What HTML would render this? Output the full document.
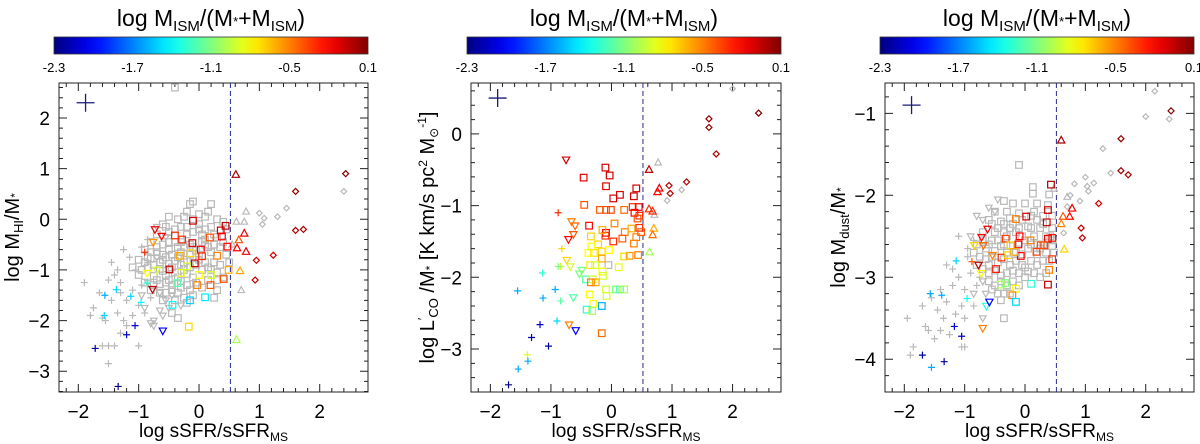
<!DOCTYPE html>
<html><head><meta charset="utf-8"><style>
html,body{margin:0;padding:0;background:#fff}
svg{display:block;font-family:"Liberation Sans",sans-serif}
</style></head><body>
<svg id="chart" width="1200" height="444" viewBox="0 0 1200 444"></svg>
<script>
// ---------- data ----------
const cbTicks = ["-2.3","-1.7","-1.1","-0.5","0.1"];
const xTicks = [-2,-1,0,1,2];
const yTicks1 = [2,1,0,-1,-2,-3];
const yTicks2 = [0,-1,-2,-3];
const yTicks3 = [-1,-2,-3,-4];
// colored points: [x, y, colorValue, shape]
const col1 = [
[0.61,0.88,0.0,'t'],[2.43,0.9,0.1,'d'],[1.6,0.55,0.05,'d'],[1.6,-0.22,0.0,'d'],[1.73,-0.2,0.0,'d'],[1.23,-0.71,-0.1,'d'],[0.95,-0.81,-0.1,'d'],[0.93,-1.2,-0.05,'d'],
[0.75,-0.28,-0.15,'t'],[0.66,-0.41,-0.4,'t'],[0.63,-0.57,-0.2,'t'],[0.78,-0.64,-0.15,'t'],[0.68,-1.02,-0.6,'t'],[0.62,-2.38,-1.0,'t'],
[-0.1,-0.03,-0.1,'s'],[-0.4,-0.32,-0.3,'s'],[0.36,-0.22,-0.1,'s'],[0.44,-0.13,-0.05,'s'],[-0.11,-0.47,-0.1,'s'],[-0.28,-0.4,-0.3,'s'],[0.18,-0.36,-0.4,'s'],[0.03,-0.6,-0.2,'s'],[-0.07,-0.87,-0.05,'s'],[-0.49,-0.99,-0.05,'s'],[-0.32,-0.72,-0.6,'s'],[-0.14,-0.67,-0.7,'s'],[0.05,-0.73,-0.3,'s'],[0.3,-0.72,-0.5,'s'],[0.38,-0.34,-0.2,'s'],[0.47,-0.54,-0.2,'s'],[0.49,-1.0,-0.6,'s'],[0.41,-1.18,-0.4,'s'],[0.19,-1.3,-0.4,'s'],[-0.03,-1.3,-0.5,'s'],[-0.17,-2.12,-0.7,'s'],[-0.15,-1.6,-1.5,'s'],[0.1,-1.54,-1.45,'s'],[-0.44,-1.69,-1.4,'s'],[0.2,-1.1,-0.9,'s'],[-0.3,-1.06,-0.85,'s'],[-0.2,-0.93,-0.9,'s'],[0,-1.1,-0.8,'s'],[-0.36,-1.26,-1.2,'s'],
[-0.73,-0.2,-0.15,'v'],[-0.62,-0.33,-0.2,'v'],[-0.76,-0.45,-0.55,'v'],[-0.77,-1.38,-0.05,'v'],[-0.6,-2.2,-2.0,'v'],[-0.86,-1.06,-0.8,'v'],[-0.7,-1.0,-0.9,'v'],
[-0.9,-0.65,-0.3,'p'],[-1.56,-1.5,-1.6,'p'],[-1.57,-1.9,-1.5,'p'],[-1.37,-1.39,-1.5,'p'],[-0.96,-1.64,-1.4,'p'],[-1.06,-2.1,-2.1,'p'],[-1.2,-2.28,-2.1,'p'],[-1.72,-2.55,-2.2,'p'],[-1.34,-3.3,-2.3,'p'],[-1.13,-1.52,-1.5,'p'],[-0.86,-1.26,-1.3,'p']
];
const graySq1 = [-0.4,2.6,-0.15,0.3,-0.1,0.35,0.2,0.3,-0.2,0.15,0,0.1,-0.5,0.05,-0.35,0,-0.1,0,0.1,0.05,0.3,0,0.4,-0.05,-0.6,-0.1,-0.3,-0.15,0,-0.1,0.2,-0.15,0.45,-0.2,-0.7,-0.3,-0.5,-0.25,-0.2,-0.3,0.05,-0.3,0.3,-0.35,-0.8,-0.45,-0.6,-0.5,-0.4,-0.45,-0.15,-0.5,0.1,-0.5,0.35,-0.55,-0.9,-0.6,-0.7,-0.65,-0.5,-0.6,-0.3,-0.65,-0.05,-0.62,0.2,-0.65,0.45,-0.7,-1.0,-0.8,-0.8,-0.78,-0.6,-0.8,-0.4,-0.82,-0.2,-0.8,0,-0.8,0.25,-0.85,0.5,-0.85,-1.1,-0.95,-0.85,-0.95,-0.65,-0.98,-0.45,-0.95,-0.25,-1.0,0.05,-1.0,0.3,-1.05,-1.0,-1.1,-0.75,-1.12,-0.55,-1.1,-0.35,-1.15,-0.1,-1.15,0.15,-1.2,0.4,-1.15,-0.9,-1.25,-0.65,-1.28,-0.45,-1.3,-0.2,-1.3,0.05,-1.35,0.3,-1.4,-0.8,-1.4,-0.55,-1.45,-0.35,-1.45,-0.1,-1.5,0.25,-1.55,-0.6,-1.6,-0.4,-1.6,-0.2,-1.65,-0.45,-1.85,-0.35,-1.95,-0.25,-1.55,-0.75,-0.9,-0.3,-0.9,-0.15,-0.7,0.35,-0.9,-0.5,-1.2,0.1,-0.4,-0.6,-0.7,-0.05,-1.25,0.2,-1.0,-0.3,-0.45,-0.7,-1.2,0.0,-0.2,-0.4,-0.2,0.15,0.15,-0.25,0.05,
-0.55,-0.75,-0.45,-0.7,-0.35,-0.75,-0.25,-0.85,-0.5,-0.88,-0.4,-1.05,-0.6,-1.02,-0.2,-1.08,-0.15,-0.95,-0.3,-1.22,-0.55,-1.25,-0.15,-1.4,-0.3,-1.35,-0.45,-1.4,-0.1,-0.55,-0.25,-0.55,-0.35,-0.55,-0.5,-0.45,0.05,-0.45,0.15,-0.55,0.25,-0.5,0.0,-0.7,0.1,-0.85,0.15,-0.95,-0.05,-0.9,-0.65,-0.85,-0.7,-0.55,-0.8,-0.65,-0.85,-0.75,-0.9,-0.85,-0.95,-1.0,-0.75,-1.3,-0.65,-1.45,-0.2,-0.15,-0.55,-0.15,0.1,-0.2,0.25,-0.3,-0.1,-0.25,0.3,-1.2,0.4,-0.45];
const grayPl1 = [-1.9,-1.25,-1.75,-1.75,-1.8,-1.9,-1.65,-1.45,-1.5,-1.2,-1.4,-1.1,-1.3,-1.25,-1.45,-1.6,-1.35,-1.85,-1.25,-2.0,-1.3,-2.25,-1.2,-1.6,-1.1,-1.4,-1.15,-0.75,-1.25,-0.6,-1.05,-1.0,-0.95,-1.3,-1.0,-1.7,-0.9,-1.85,-0.85,-0.4,-0.95,-0.55,-0.85,-0.85,-1.4,-2.5,-1.5,-2.5,-1.6,-2.5,-1.0,-2.5,-1.5,-2.85,-1.55,-2.0,-1.3,-1.45,-1.2,-2.1,-1.1,-1.9,-0.8,-1.55,-1.35,-1.0,-1.45,-0.85,-1.6,-1.95];
const grayDt1 = [-0.55,-1.6,-0.65,-1.8,-0.75,-2.0,-0.75,-2.1,-0.6,-1.9,-0.8,-2.05,-0.9,-1.75,-0.65,-1.45,-0.5,-1.75,-0.95,-1.5,-0.85,-1.25,-0.7,-0.75,-0.55,-0.35,-0.7,-0.15,-0.45,-1.5,-0.3,-1.7];
const grayDi1 = [1.0,0.12,1.05,-0.1,1.08,0.02,1.3,0.05,1.45,0.22,2.4,0.55];
const grayTr1 = [0.78,0.15,0.62,-0.05,0.75,-0.05,0.7,-1.4,0.55,-0.5];

const col2 = [
[2.43,0.29,0.1,'d'],[1.61,0.21,0.05,'d'],[1.61,0.09,0.05,'d'],[1.73,-0.28,0.0,'d'],[1.24,-0.67,-0.05,'d'],[0.95,-0.72,-0.05,'d'],[0.97,-0.83,-0.05,'d'],
[0.62,-0.5,-0.05,'t'],[0.79,-0.76,-0.15,'t'],[0.76,-0.81,-0.2,'t'],[0.62,-1.05,-0.3,'t'],[0.68,-1.08,-0.3,'t'],[0.7,-1.32,-0.6,'t'],[0.68,-1.41,-0.45,'t'],[0.63,-1.65,-1.0,'t'],
[-0.75,-0.36,-0.1,'v'],[-0.66,-1.22,-0.5,'v'],[-0.6,-1.28,-0.45,'v'],[-0.71,-1.47,-0.2,'v'],[-0.63,-1.4,-0.4,'v'],[-0.74,-1.76,-0.7,'v'],[-0.68,-1.85,-0.9,'v'],[-0.53,-1.95,-1.1,'v'],[-0.49,-1.9,-1.1,'v'],[-0.63,-2.28,-1.2,'v'],[-0.7,-2.66,-0.5,'v'],[-0.59,-2.74,-2.0,'v'],
[-0.88,-1.1,-0.3,'p'],[-0.82,-1.6,-0.7,'p'],[-0.84,-1.85,-0.9,'p'],[-0.88,-1.85,-1.1,'p'],[-1.14,-1.94,-1.3,'p'],[-1.55,-2.19,-1.6,'p'],[-1.13,-2.29,-1.6,'p'],[-0.93,-2.17,-1.6,'p'],[-0.84,-2.33,-1.2,'p'],[-0.9,-2.61,-1.5,'p'],[-1.18,-2.66,-2.1,'p'],[-1.32,-2.84,-2.2,'p'],[-1.04,-2.96,-2.2,'p'],[-1.39,-3.08,-0.9,'p'],[-1.38,-3.17,-1.6,'p'],[-1.54,-3.28,-1.6,'p'],[-1.7,-3.5,-2.3,'p'],
[-0.1,-0.47,-0.1,'s'],[-0.03,-0.58,-0.1,'s'],[-0.46,-0.61,-0.15,'s'],[-0.09,-0.73,-0.15,'s'],[0.14,-0.85,-0.1,'s'],[0.03,-0.9,-0.1,'s'],[0.37,-0.87,-0.1,'s'],[0.41,-0.76,-0.1,'s'],[-0.45,-0.99,-0.4,'s'],[-0.19,-1.06,-0.4,'s'],[-0.09,-1.06,-0.4,'s'],[-0.01,-1.06,-0.35,'s'],[0.21,-1.06,-0.45,'s'],[0.35,-1.02,-0.3,'s'],[0.45,-1.02,-0.2,'s'],[0.38,-1.1,-0.2,'s'],[0.46,-1.14,-0.3,'s'],[0.43,-1.18,-0.4,'s'],[-0.37,-1.28,-0.2,'s'],[0.05,-1.25,-0.5,'s'],[-0.09,-1.38,-0.2,'s'],[-0.1,-1.42,-0.3,'s'],[-0.15,-1.34,-0.6,'s'],[0.22,-1.37,-0.5,'s'],[0.33,-1.32,-0.6,'s'],[0.46,-1.31,-0.3,'s'],[0.49,-1.37,-0.4,'s'],[0.03,-1.5,-0.3,'s'],[0.18,-1.46,-0.4,'s'],[0.41,-1.44,-0.5,'s'],[0.37,-1.53,-0.5,'s'],[-0.34,-1.43,-0.7,'s'],[-0.22,-1.54,-0.7,'s'],[-0.33,-1.57,-0.8,'s'],[-0.38,-1.66,-0.8,'s'],[-0.29,-1.66,-0.75,'s'],[-0.16,-1.64,-0.7,'s'],[-0.04,-1.62,-0.8,'s'],[0.3,-1.7,-0.55,'s'],[0.21,-1.71,-0.7,'s'],[0.44,-1.69,-0.5,'s'],[-0.16,-1.74,-0.6,'s'],[0.12,-1.86,-0.85,'s'],[-0.35,-1.83,-0.75,'s'],[-0.27,-1.83,-0.9,'s'],[-0.15,-1.92,-0.8,'s'],[-0.14,-1.98,-0.9,'s'],[-0.42,-2.03,-1.2,'s'],[-0.31,-2.03,-0.9,'s'],[-0.26,-2.07,-0.6,'s'],[-0.34,-2.07,-0.5,'s'],[-0.09,-2.17,-0.9,'s'],[0.07,-2.17,-1.1,'s'],[0.14,-2.17,-1.2,'s'],[0.21,-2.17,-1.0,'s'],[-0.08,-2.26,-0.9,'s'],[-0.36,-2.24,-0.8,'s'],[-0.3,-2.37,-0.8,'s'],[-0.41,-2.45,-1.3,'s'],[-0.32,-2.47,-1.0,'s'],[-0.16,-2.4,-1.6,'s'],[-0.16,-2.78,-0.45,'s']
];
const graySq2 = [-0.05,-1.83];
const grayPl2 = [];
const grayDt2 = [];
const grayDi2 = [2.0,0.63,1.16,-0.78,0.92,-0.93];
const grayTr2 = [0.77,-0.4,0.71,-1.13];

const col3 = [
[2.42,-0.97,0.1,'d'],[1.59,-1.31,0.05,'d'],[1.59,-1.7,0.05,'d'],[1.71,-1.75,0.0,'d'],[1.22,-2.1,-0.1,'d'],[0.93,-2.4,-0.05,'d'],[0.95,-2.52,-0.05,'d'],
[0.6,-1.33,0.0,'t'],[0.78,-2.16,-0.15,'t'],[0.74,-2.26,-0.2,'t'],[0.63,-2.26,-0.4,'t'],[0.6,-2.35,-0.5,'t'],[0.65,-2.66,-0.7,'t'],
[0.43,-1.87,0.0,'s'],[0.38,-2.18,-0.1,'s'],[0.02,-2.26,-0.1,'s'],[0.36,-2.33,-0.1,'s'],[-0.15,-2.29,-0.5,'s'],[0.38,-2.53,-0.1,'s'],[0.45,-2.52,-0.25,'s'],[0.32,-2.61,-0.35,'s'],[0.26,-2.61,-0.4,'s'],[0.19,-2.69,-0.35,'s'],[0.09,-2.55,-0.5,'s'],[-0.09,-2.5,-0.2,'s'],[-0.11,-2.6,-0.2,'s'],[-0.07,-2.74,-0.2,'s'],[-0.32,-2.53,-0.35,'s'],[-0.39,-2.76,-0.3,'s'],[-0.48,-2.9,-0.25,'s'],[-0.24,-2.61,-0.7,'s'],[-0.18,-2.69,-0.6,'s'],[-0.28,-2.73,-0.7,'s'],[0.4,-2.91,-0.5,'s'],[0.45,-2.78,-0.3,'s'],[0.38,-3.09,-0.05,'s'],[0.1,-3.08,-1.3,'s'],[-0.15,-3.14,-0.8,'s'],[-0.21,-3.22,-0.5,'s'],[-0.15,-3.3,-1.5,'s'],[-0.4,-3.09,-1.0,'s'],[-0.33,-3.07,-1.1,'s'],
[-0.62,-2.41,-0.15,'v'],[-0.72,-2.51,-0.2,'v'],[-0.69,-2.61,-0.45,'v'],[-0.54,-2.73,-0.5,'v'],[-0.77,-2.85,-0.05,'v'],[-0.73,-2.95,-0.8,'v'],[-0.64,-3.35,-1.3,'v'],[-0.59,-3.3,-2.0,'v'],[-0.7,-3.62,-0.5,'v'],[-0.84,-2.61,-0.7,'v'],
[-0.88,-2.81,-0.4,'p'],[-1.14,-2.8,-1.5,'p'],[-1.38,-3.22,-1.6,'p'],[-1.57,-3.2,-1.6,'p'],[-0.96,-3.26,-1.4,'p'],[-1.17,-3.6,-2.1,'p'],[-1.05,-3.72,-2.1,'p'],[-1.7,-3.95,-2.2,'p'],[-1.34,-4.03,-2.2,'p'],[-1.55,-4.1,-1.6,'p']
];
const graySq3 = [-0.1,-1.63,0.13,-1.9,0.13,-1.98,0.4,-1.99,-0.35,-2.07,-0.2,-2.1,0,-2.1,0.2,-2.1,0.38,-2.12,-0.5,-2.2,-0.3,-2.2,-0.1,-2.22,0.1,-2.25,0.3,-2.25,-0.6,-2.3,-0.4,-2.32,-0.2,-2.35,0.05,-2.38,0.25,-2.4,0.45,-2.4,-0.7,-2.45,-0.5,-2.45,-0.3,-2.5,-0.05,-2.5,0.15,-2.5,0.35,-2.5,-0.8,-2.6,-0.6,-2.6,-0.4,-2.62,-0.2,-2.62,0.05,-2.65,0.25,-2.65,0.45,-2.62,-0.75,-2.75,-0.55,-2.75,-0.35,-2.78,-0.15,-2.8,0.1,-2.8,0.3,-2.8,-0.7,-2.9,-0.5,-2.92,-0.3,-2.95,-0.1,-2.95,0.15,-2.95,0.4,-2.8,-0.6,-3.05,-0.4,-3.05,-0.2,-3.05,0.0,-3.0,-0.45,-3.2,-0.25,-3.2,-0.4,-3.28,-0.55,-3.15,-0.35,-3.5,0.0,-2.55,-0.25,-2.4,0.2,-2.6,-0.45,-2.55,-0.15,-2.7,0.3,-2.35,-0.65,-2.65,-0.05,-2.85,0.35,-2.95,0.45,-2.25,0.42,-2.5,0.48,-2.7,0.46,-2.55,-0.1,-2.4,-0.6,-2.85,0.25,-3.0,
-0.55,-2.35,-0.45,-2.4,-0.35,-2.35,-0.15,-2.45,0.1,-2.4,0.2,-2.3,-0.05,-2.3,-0.25,-2.28,-0.7,-2.55,-0.55,-2.55,-0.35,-2.6,-0.1,-2.58,0.1,-2.6,0.3,-2.6,-0.5,-2.68,-0.3,-2.7,-0.05,-2.72,0.2,-2.72,-0.65,-2.78,-0.45,-2.82,-0.25,-2.85,0.0,-2.88,0.2,-2.85,-0.6,-2.95,-0.4,-2.98,-0.2,-2.92,0.05,-2.93,-0.5,-3.1,-0.3,-3.1,-0.1,-3.1,-0.35,-3.2,-0.85,-2.7,-0.8,-2.85,0.35,-2.7,0.15,-2.2,-0.35,-2.45];
const grayPl3 = [-1.95,-3.5,-1.85,-3.85,-1.9,-3.95,-1.65,-3.6,-1.55,-3.25,-1.7,-3.35,-1.45,-3.4,-1.35,-3.5,-1.3,-3.3,-1.2,-3.1,-1.25,-3.7,-1.4,-3.65,-1.15,-3.45,-1.05,-3.35,-1.0,-3.15,-1.1,-3.0,-1.2,-2.9,-1.3,-2.85,-0.95,-2.75,-0.9,-2.95,-1.05,-3.85,-1.0,-3.85,-0.85,-3.35,-0.8,-3.1,-0.85,-2.55,-1.1,-2.5,-0.95,-2.65,-1.5,-3.75,-1.6,-3.65,-1.4,-3.15,-1.0,-3.5,-0.75,-3.0];
const grayDt3 = [-0.6,-2.15,-0.5,-2.2,-0.7,-2.3,-0.8,-2.25,-0.7,-3.05,-0.65,-3.2,-0.7,-3.5,-0.85,-3.2,-0.45,-2.05,-0.9,-2.5];
const grayDi3 = [2.15,-0.73,2.0,-1.04,2.39,-1.07,1.29,-1.43,1.42,-1.73,1.0,-1.78,1.14,-1.85,1.03,-1.89,1.05,-1.95,0.82,-1.86,0.91,-2.07,0.75,-2.0,0.7,-2.14,0.64,-2.46];
const grayTr3 = [0.48,-1.92,0.7,-2.02];
const errPts = [[-1.88,2.3],[-1.88,0.5],[-1.88,-0.9]];
const msLine = 0.52;

// ---------- drawing ----------
const NS="http://www.w3.org/2000/svg";
const svg=document.getElementById('chart');
function mk(tag,attrs,parent){const e=document.createElementNS(NS,tag);for(const k in attrs)e.setAttribute(k,attrs[k]);(parent||svg).appendChild(e);return e;}
function jet(v){let t=(v+2.3)/2.4;t=Math.max(0,Math.min(1,t));
 const r=Math.max(0,Math.min(1,1.5-Math.abs(4*t-3))),g=Math.max(0,Math.min(1,1.5-Math.abs(4*t-2))),b=Math.max(0,Math.min(1,1.5-Math.abs(4*t-1)));
 return `rgb(${Math.round(r*255)},${Math.round(g*255)},${Math.round(b*255)})`;}
function marker(g,shape,px,py,color,s,sw){
 let e;
 if(shape==='s')e=mk('rect',{x:px-s,y:py-s,width:2*s,height:2*s,fill:'none',stroke:color,'stroke-width':sw},g);
 else if(shape==='t')e=mk('polygon',{points:`${px},${py-s*1.2} ${px-s*1.1},${py+s*0.8} ${px+s*1.1},${py+s*0.8}`,fill:'none',stroke:color,'stroke-width':sw},g);
 else if(shape==='v')e=mk('polygon',{points:`${px},${py+s*1.2} ${px-s*1.1},${py-s*0.8} ${px+s*1.1},${py-s*0.8}`,fill:'none',stroke:color,'stroke-width':sw},g);
 else if(shape==='d')e=mk('polygon',{points:`${px},${py-s} ${px+s},${py} ${px},${py+s} ${px-s},${py}`,fill:'none',stroke:color,'stroke-width':sw},g);
 else e=mk('path',{d:`M${px-s} ${py}H${px+s}M${px} ${py-s}V${py+s}`,stroke:color,'stroke-width':sw,fill:'none'},g);
 return e;}

const panels=[
 {x0:59,x1:368,cb0:54,cb1:368,ymin:-3.41,ymax:2.69,yt:yTicks1,col:col1,gs:graySq1,gp:grayPl1,gd:grayDt1,gdi:grayDi1,gt:grayTr1,err:errPts[0],title:'hi'},
 {x0:471,x1:781,cb0:467,cb1:781,ymin:-3.6,ymax:0.71,yt:yTicks2,col:col2,gs:graySq2,gp:grayPl2,gd:grayDt2,gdi:grayDi2,gt:grayTr2,err:errPts[1],title:'co'},
 {x0:885,x1:1194,cb0:880,cb1:1194,ymin:-4.4,ymax:-0.63,yt:yTicks3,col:col3,gs:graySq3,gp:grayPl3,gd:grayDt3,gdi:grayDi3,gt:grayTr3,err:errPts[2],title:'dust'}
];
const Y0=83,Y1=392,XMIN=-2.32,XMAX=2.8;
const defs=mk('defs',{});
const grad=mk('linearGradient',{id:'jet',x1:0,x2:1,y1:0,y2:0},defs);
for(let i=0;i<=20;i++){mk('stop',{offset:i/20,'stop-color':jet(-2.3+2.4*i/20)},grad);}

panels.forEach((P,pi)=>{
 const g=mk('g',{});
 
 
 const sx=v=>P.x0+(v-XMIN)/(XMAX-XMIN)*(P.x1-P.x0);
 const sy=v=>Y1-(v-P.ymin)/(P.ymax-P.ymin)*(Y1-Y0);
 const cbc=(P.cb0+P.cb1)/2;
 const ct=mk('text',{x:cbc,y:26,'text-anchor':'middle','font-size':23},g);
 
 
 ct.innerHTML='log M<tspan font-size="15" dy="5">ISM</tspan><tspan dy="-5">/(M</tspan><tspan font-size="13">*</tspan>+M<tspan font-size="15" dy="5">ISM</tspan><tspan dy="-5">)</tspan>';
 const cb=mk('rect',{x:P.cb0,y:37,width:P.cb1-P.cb0,height:17,fill:'url(#jet)',stroke:'#333','stroke-width':0.8},g);
 
 
 cbTicks.forEach((t,i)=>{const tx=mk('text',{x:P.cb0+i*(P.cb1-P.cb0)/4,y:72,'text-anchor':'middle','font-size':13},g);tx.textContent=t;
  
  });
 const box=mk('rect',{x:P.x0,y:Y0,width:P.x1-P.x0,height:Y1-Y0,fill:'none',stroke:'#222','stroke-width':1},g);
 
 
 let tk='';
 for(let v=-2.2;v<=2.81;v+=0.2){const r=Math.round(v*10)/10;const X=sx(r);const L=Math.abs(r-Math.round(r))<1e-6?8:4;tk+=`M${X} ${Y1}v${-L}M${X} ${Y0}v${L}`;}
 for(let v=Math.ceil(P.ymin*5)/5;v<=P.ymax;v+=0.2){const r=Math.round(v*10)/10;const Yp=sy(r);const L=Math.abs(r-Math.round(r))<1e-6?8:4;tk+=`M${P.x0} ${Yp}h${L}M${P.x1} ${Yp}h${-L}`;}
 mk('path',{d:tk,stroke:'#222','stroke-width':1,fill:'none'},g);
 xTicks.forEach(t=>{const tx=mk('text',{x:sx(t),y:418,'text-anchor':'middle','font-size':19},g);tx.textContent=t<0?'\u2212'+(-t):t;
  
  });
 P.yt.forEach(t=>{const tx=mk('text',{x:P.x0-9,y:sy(t)+7,'text-anchor':'end','font-size':19},g);tx.textContent=t<0?'\u2212'+(-t):t;
  
  });
 const xt=mk('text',{x:(P.x0+P.x1)/2,y:437,'text-anchor':'middle','font-size':19},g);
 xt.innerHTML='log sSFR/sSFR<tspan font-size="12" dy="4">MS</tspan>';
 
 
 const yx=P.x0-(pi===1?37:40), yc=(Y0+Y1)/2;
 const yt=mk('text',{x:yx,y:yc,'text-anchor':'middle','font-size':20,transform:`rotate(-90 ${yx} ${yc})`},g);
 if(P.title==='hi')yt.innerHTML='log M<tspan font-size="13" dy="4">HI</tspan><tspan dy="-4">/M</tspan><tspan font-size="12">*</tspan>';
 else if(P.title==='co')yt.innerHTML='log L<tspan font-size="13" dy="-7">\u2032</tspan><tspan font-size="13" dy="11">CO</tspan><tspan dy="-4"> /M</tspan><tspan font-size="12">*</tspan> [K km/s pc<tspan font-size="12" dy="-7">2</tspan><tspan dy="7"> M</tspan><tspan font-size="12" dy="4">\u2299</tspan><tspan font-size="12" dy="-12">-1</tspan><tspan dy="8">]</tspan>';
 else yt.innerHTML='log M<tspan font-size="13" dy="4">dust</tspan><tspan dy="-4">/M</tspan><tspan font-size="12">*</tspan>';
 
 
 const dl=mk('line',{x1:sx(msLine),x2:sx(msLine),y1:Y0,y2:Y1,stroke:'#2a2a8a','stroke-width':1,'stroke-dasharray':'5,3'},g);
 
 
 const gray='#b9b9b9';
 const drawGray=(arr,shape,s)=>{for(let i=0;i<arr.length;i+=2){const m=marker(g,shape,sx(arr[i]),sy(arr[i+1]),gray,s,1.2);
  
  }};
 drawGray(P.gs,'s',3.3);drawGray(P.gp,'p',3.5);drawGray(P.gd,'v',3);drawGray(P.gdi,'d',2.8);drawGray(P.gt,'t',3);
 P.col.forEach(p=>{const s=p[3]==='s'?3.3:(p[3]==='d'?3:(p[3]==='p'?3.5:3.3));
  const m=marker(g,p[3],sx(p[0]),sy(p[1]),jet(p[2]),s,1.2);
  
  });
 const ex=sx(P.err[0]),ey=sy(P.err[1]);
 const ec=mk('path',{d:`M${ex-9} ${ey}H${ex+9}M${ex} ${ey-9}V${ey+9}`,stroke:'#1a1a7a','stroke-width':1.3,fill:'none'},g);
 
 
});
</script>
</body></html>
